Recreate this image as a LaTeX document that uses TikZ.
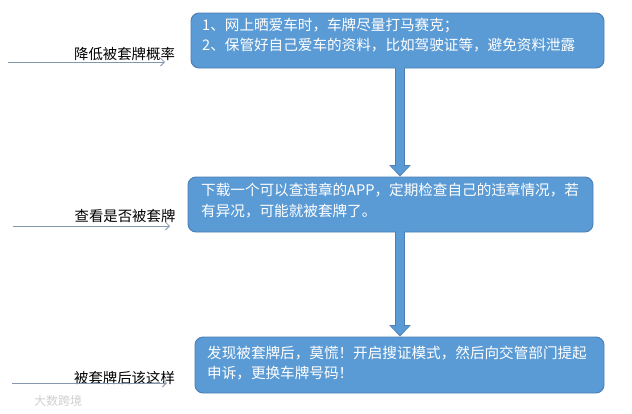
\documentclass[tikz,border=0pt]{standalone}
\usepackage{fontspec}
\setmainfont{Noto Sans CJK SC}
\usetikzlibrary{arrows.meta}
\definecolor{boxfill}{HTML}{5B9BD5}
\definecolor{boxline}{HTML}{4A7EB5}
\definecolor{lblline}{HTML}{8497AE}
\definecolor{wm}{HTML}{D0D0D0}
\tikzset{
  stepbox/.style={draw=boxline, line width=0.9pt, fill=boxfill, rounded corners=8pt, inner sep=0pt},
  boxtext/.style={anchor=west, align=left, text=white, inner sep=0pt, font=\fontsize{14.6}{20.5}\selectfont},
  lbl/.style={anchor=center, inner sep=0pt, text=black, font=\fontsize{14.4}{17}\selectfont},
  lblline/.style={draw=lblline, line width=0.9pt, -{Straight Barb[length=4pt,width=8pt,line width=0.8pt]}},
  fatout/.style={draw=boxline, line width=10pt, -{Triangle[width=21pt,length=11.5pt]}},
  fatin/.style={draw=boxfill, line width=7.6pt, shorten >=1.3pt, -{Triangle[width=17.5pt,length=9.2pt]}}
}
\begin{document}
\begin{tikzpicture}[x=1pt,y=1pt]
\useasboundingbox[fill=white] (0,0) rectangle (632,-413);
% boxes
\node[stepbox, minimum width=413pt, minimum height=55pt] (b1) at (397.5,-40.5) {};
\node[stepbox, minimum width=405pt, minimum height=55pt] (b2) at (390.5,-204.5) {};
\node[stepbox, minimum width=409pt, minimum height=56pt] (b3) at (399.5,-365) {};
% box texts
\node[boxtext] (t1) at (202,-35) {1、网上晒爱车时，车牌尽量打马赛克；\\2、保管好自己爱车的资料，比如驾驶证等，避免资料泄露};
\node[boxtext] (t2) at (201,-200.5) {下载一个可以查违章的APP，定期检查自己的违章情况，若\\有异况，可能就被套牌了。};
\node[boxtext] (t3) at (207,-363) {发现被套牌后，莫慌！开启搜证模式，然后向交管部门提起\\申诉，更换车牌号码！};
% fat arrows
\coordinate (ax) at (400,0);
\draw[fatout] (b1.south -| ax) -- (b2.north -| ax);
\draw[fatin] ([yshift=2pt]b1.south -| ax) -- (b2.north -| ax);
\draw[fatout] (b2.south -| ax) -- (b3.north -| ax);
\draw[fatin] ([yshift=2pt]b2.south -| ax) -- (b3.north -| ax);
% labels
\node[lbl] (l1) at (124.5,-54) {降低被套牌概率};
\node[lbl] (l2) at (125,-216) {查看是否被套牌};
\node[lbl] (l3) at (124.5,-378) {被套牌后该这样};
\coordinate (s1) at (8,-62);  \coordinate (e1) at (165,-62);
\coordinate (s2) at (13,-226); \coordinate (e2) at (170,-226);
\coordinate (s3) at (12,-383); \coordinate (e3) at (167,-383);
\draw[lblline] (s1) -- (e1);
\draw[lblline] (s2) -- (e2);
\draw[lblline] (s3) -- (e3);
% watermark
\node[anchor=west, inner sep=0pt, text=wm, font=\fontsize{12}{12}\selectfont] (wmk) at (34,-401) {大数跨境};
\end{tikzpicture}
\end{document}
